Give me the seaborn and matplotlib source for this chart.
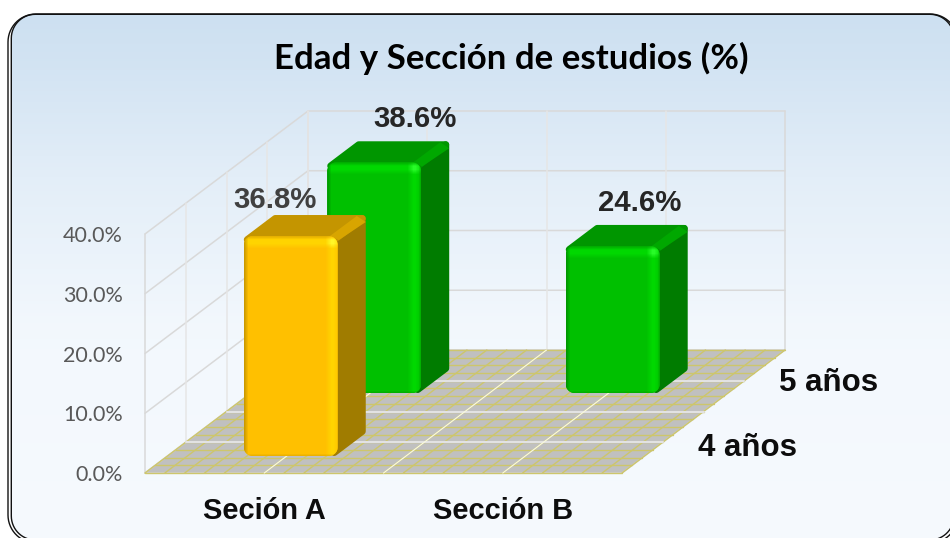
import numpy as np
import pandas as pd
import seaborn as sns
import matplotlib.pyplot as plt
from matplotlib.patches import Polygon
from matplotlib.transforms import Affine2D

# data
secciones = ['Seción A', 'Sección B']
edades = ['4 años', '5 años']
edad_4 = [36.8, np.nan]
edad_5 = [38.6, 24.6]
y_ticks = [0, 10, 20, 30, 40]
titulo = 'Edad y Sección de estudios (%)'

# chart scale, pixels per unit
W, H = 950, 538
PX_X = 238.5
PX_Y = 5.975
# depth of the floor in pixels
DEPTH_X = 163
DEPTH_Y = 123
colores = {'4 años': '#ffc000', '5 años': '#00c000'}
tonos = {
    '4 años': dict(base=(255, 192, 0), luz=(255, 212, 0), sombra=(190, 145, 0),
                   lado='#a07c00', techo='#c49500', franja='#d8a500'),
    '5 años': dict(base=(0, 192, 0), luz=(0, 216, 0), sombra=(0, 140, 0),
                   lado='#007c00', techo='#009600', franja='#00a800'),
}
z_fila = {'4 años': 0.138, '5 años': 0.65}
z_barra = 0.172
ajuste_x = 4 / PX_X
etiqueta_offset = {('4 años', 0): (-16, 36), ('5 años', 0): (41, 43), ('5 años', 1): (27, 43)}
etiqueta_color = {'4 años': '#404040', '5 años': '#262626'}
fondo_offset = {'4 años': (35, 6), '5 años': (35, 2)}

sns.set_theme(style='white')
plt.rcParams['font.family'] = ['Liberation Sans', 'DejaVu Sans']


def redondeado(x0, y0, x1, y1, rx, ry):
    # rounded rectangle outline, y0 is the lower value
    t = np.linspace(0, np.pi / 2, 16)
    c, s = np.cos(t), np.sin(t)
    xs = np.r_[x1 - rx + rx * c, x0 + rx - rx * s, x0 + rx - rx * c, x1 - rx + rx * s]
    ys = np.r_[y1 - ry + ry * s, y1 - ry + ry * c, y0 + ry - ry * s, y0 + ry - ry * c]
    return np.c_[xs, ys]


fig = plt.figure(figsize=(W / 100, H / 100), dpi=100, facecolor='white')

# background panel with gradient and double border
bg = fig.add_axes([0, 0, 1, 1])
bg.axis('off')
filas = np.arange(14, 546)
stops = np.interp(filas, [14, 60, 180, 330, 546],
                  [0, 0.12, 0.55, 0.92, 1.0])[:, None, None]
grad = (1 - stops) * np.array([205, 224, 241]) + stops * np.array([246, 250, 254])
im = bg.imshow(grad.astype(np.uint8), extent=[0, W, 546, 14], aspect='auto', zorder=1)
bg.set_xlim(0, W)
bg.set_ylim(H, 0)
panel = Polygon(redondeado(11.3, 14, 954, 540, 24, 24), fc='none', ec='none')
bg.add_patch(panel)
im.set_clip_path(panel)
bg.add_patch(Polygon(redondeado(8, 14, 958, 543, 28, 28), fc='none', ec='#111111', lw=1.0, zorder=2))
bg.add_patch(Polygon(redondeado(11.3, 14.3, 954, 540, 24, 24), fc='none', ec='#111111', lw=1.0, zorder=2))

# main axes, matches the front edge of the floor
ax = fig.add_axes([145 / W, (H - 473) / H, 477 / W, 239 / H], facecolor='none')
df = pd.DataFrame({
    'seccion': secciones * 2,
    'edad': [edades[0]] * 2 + [edades[1]] * 2,
    'valor': edad_4 + edad_5,
})
sns.barplot(data=df, x='seccion', y='valor', hue='edad', hue_order=edades, order=secciones,
            dodge=False, width=94 / PX_X, palette=colores, legend=False, saturation=1,
            linewidth=0, ax=ax)


def proj(x, z, v):
    return x + z * DEPTH_X / PX_X, v + z * DEPTH_Y / PX_Y


# walls
gris = '#d9d9d9'
for v in y_ticks:
    xs, ys = zip(proj(-0.5, 0, v), proj(-0.5, 1, v), proj(1.5, 1, v))
    ax.plot(xs, ys, color=gris, lw=1.1, clip_on=False, zorder=1)
for z in np.arange(0, 1.01, 0.25):
    xs, ys = zip(proj(-0.5, z, 0), proj(-0.5, z, max(y_ticks)))
    ax.plot(xs, ys, color=gris if z in (0, 1) else '#e6e6e6', lw=1.1, clip_on=False, zorder=1)
for x in np.arange(-0.5, 1.51, 0.5):
    xs, ys = zip(proj(x, 1, 0), proj(x, 1, max(y_ticks)))
    ax.plot(xs, ys, color='#e6e6e6' if x < 1.5 else gris, lw=1.1, clip_on=False, zorder=1)

# floor
esquinas = [proj(-0.5, 0, 0), proj(1.5, 0, 0), proj(1.5, 1, 0), proj(-0.5, 1, 0)]
ax.add_patch(Polygon(esquinas, fc='#c0c0c0', ec='#d4d4d4', lw=1, clip_on=False, zorder=2))
for z in np.linspace(0, 1, 17):
    xs, ys = zip(proj(-0.5, z, 0), proj(1.5, z, 0))
    ax.plot(xs, ys, color='#cdc66c', lw=1.0, clip_on=False, zorder=2.1)
for x in np.linspace(-0.5, 1.5, 25):
    xs, ys = zip(proj(x, 0, 0), proj(x, 1, 0))
    ax.plot(xs, ys, color='#cdc66c', lw=1.0, clip_on=False, zorder=2.1)
for z in (0.25, 0.5, 0.75):
    xs, ys = zip(proj(-0.5, z, 0), proj(1.5, z, 0))
    ax.plot(xs, ys, color='#e2e2e2', lw=1.5, clip_on=False, zorder=2.2)
for x in (0, 0.5, 1):
    xs, ys = zip(proj(x, 0, 0), proj(x, 1, 0))
    ax.plot(xs, ys, color='#f8f8e0', lw=0.9, clip_on=False, zorder=2.2)


def cara_frontal(w_px, h_px, t):
    base, luz, sombra = [np.array(t[k], float) for k in ('base', 'luz', 'sombra')]
    w_px, h_px = int(round(w_px)), int(round(h_px))
    # bevel weights along the top and right edges
    peso_x = np.interp(np.arange(w_px), [w_px - 14, w_px - 8, w_px - 6, w_px - 1], [0, 1, 1, 0.3])
    peso_y = np.interp(np.arange(h_px), [0, 4, 7, 12], [0.3, 1, 1, 0])
    mx, my = np.meshgrid(peso_x, peso_y)
    peso = np.maximum(mx, my)[..., None]
    img = base + (luz - base) * peso
    # bright spot where the two edges meet
    img = img + (mx * my)[..., None] * np.array([40.0, 35.0, 40.0])
    # darker left and bottom edges, and the rim at the very top and right
    izq = np.interp(np.arange(w_px), [0, 4], [0.8, 0])
    img = img + (sombra - img) * izq[None, :, None]
    der = np.interp(np.arange(w_px), [w_px - 3, w_px - 1], [0, 0.35])
    img = img + (sombra - img) * der[None, :, None]
    arr = np.interp(np.arange(h_px), [0, 3], [0.4, 0])
    img = img + (sombra - img) * arr[:, None, None]
    aba = np.interp(np.arange(h_px), [h_px - 3, h_px - 1], [0, 0.3])
    img = img + (sombra - img) * aba[:, None, None]
    return img.clip(0, 255).astype(np.uint8)


# bars come from seaborn, here they are moved in depth and given their 3D faces
r_px = 9
for orden, (edad, cont) in enumerate(zip(edades, ax.containers)):
    z = z_fila[edad]
    t = tonos[edad]
    base_z = 4 - orden
    for i, bar in enumerate(cont):
        alto = bar.get_height()
        if np.isnan(alto):
            continue
        x0, y0 = proj(bar.get_x() + ajuste_x, z, 0)
        ancho = bar.get_width()
        x1, y1 = x0 + ancho, y0 + alto
        bar.set_x(x0)
        bar.set_y(y0)
        bar.set_zorder(base_z + 0.3)
        dx = z_barra * DEPTH_X / PX_X
        dy = z_barra * DEPTH_Y / PX_Y
        ex, ey = 3.5 / PX_X, 3.5 / PX_Y

        # side and top faces, round joins give the soft outer corners
        lado = [(x1 - ex, y0 + ey), (x1 - ex, y1 - ey), (x1 + dx - ex, y1 + dy - ey),
                (x1 + dx - ex, y0 + dy + ey)]
        ax.add_patch(Polygon(lado, fc=t['lado'], ec=t['lado'], lw=5, joinstyle='round',
                             clip_on=False, zorder=base_z + 0.1))
        techo = [(x0 + ex, y1 - ey), (x1 - ex, y1 - ey), (x1 + dx - ex, y1 + dy - ey),
                 (x0 + dx + ex, y1 + dy - ey)]
        ax.add_patch(Polygon(techo, fc=t['techo'], ec=t['techo'], lw=5, joinstyle='round',
                             clip_on=False, zorder=base_z + 0.2))
        franja = [(x1 - 8 / PX_X, y1), (x1 + 1 / PX_X, y1 - 4 / PX_Y), (x1 + dx, y1 + dy - 7 / PX_Y),
                  (x1 + dx - 9 / PX_X, y1 + dy - 1 / PX_Y)]
        ax.add_patch(Polygon(franja, fc=t['franja'], ec='none', clip_on=False, zorder=base_z + 0.25))

        # front face with rounded corners, clip box is the figure so the axes box does not cut it
        marco = Polygon(redondeado(x0, y0, x1, y1, r_px / PX_X, r_px / PX_Y), fc='none', ec='none')
        ax.add_patch(marco)
        bar.set_clip_box(fig.bbox)
        bar.set_clip_path(marco)
        cara = ax.imshow(cara_frontal(ancho * PX_X, alto * PX_Y, t), extent=[x0, x1, y0, y1],
                         aspect='auto', interpolation='nearest', zorder=base_z + 0.4)
        cara.set_clip_box(fig.bbox)
        cara.set_clip_path(marco)

        ox, oy = etiqueta_offset[(edad, i)]
        ax.text((x0 + x1) / 2 + ox / PX_X, y1 + oy / PX_Y, f'{alto:.1f}%', ha='center', va='center',
                fontsize=21.2, fontweight='bold', color=etiqueta_color[edad], zorder=10)

# depth labels on the right of the floor
for edad in edades:
    z = 0.25 if edad == edades[0] else 0.75
    xd, yd = proj(1.5, z, 0)
    ox, oy = fondo_offset[edad]
    ax.text(xd + ox / PX_X, yd - oy / PX_Y, edad, ha='left', va='center', fontsize=22.5,
            fontweight='bold', color='#0d0d0d', clip_on=False)

ax.set_xlim(-0.5, 1.5)
ax.set_ylim(0, 40)
ax.set_yticks(y_ticks)
ax.set_yticklabels([f'{v:.1f}%' for v in y_ticks], family='Lato', fontsize=15.5, color='#595959')
for lbl in ax.get_yticklabels():
    lbl.set_transform(lbl.get_transform() + Affine2D().translate(0, -2))
ax.set_xticks(range(len(secciones)))
ax.set_xticklabels(secciones, fontsize=20.9, fontweight='bold', color='#0d0d0d')
ax.tick_params(axis='y', length=0, pad=16)
ax.tick_params(axis='x', length=0, pad=17)
ax.set_xlabel('')
ax.set_ylabel('')
sns.despine(ax=ax, left=True, bottom=True)

fig.text(511.5 / W, 1 - 58 / H, titulo, ha='center', va='center', family='Lato',
         fontsize=25.1, fontweight='bold', color='#000000')

fig.savefig('out.png', dpi=100)
